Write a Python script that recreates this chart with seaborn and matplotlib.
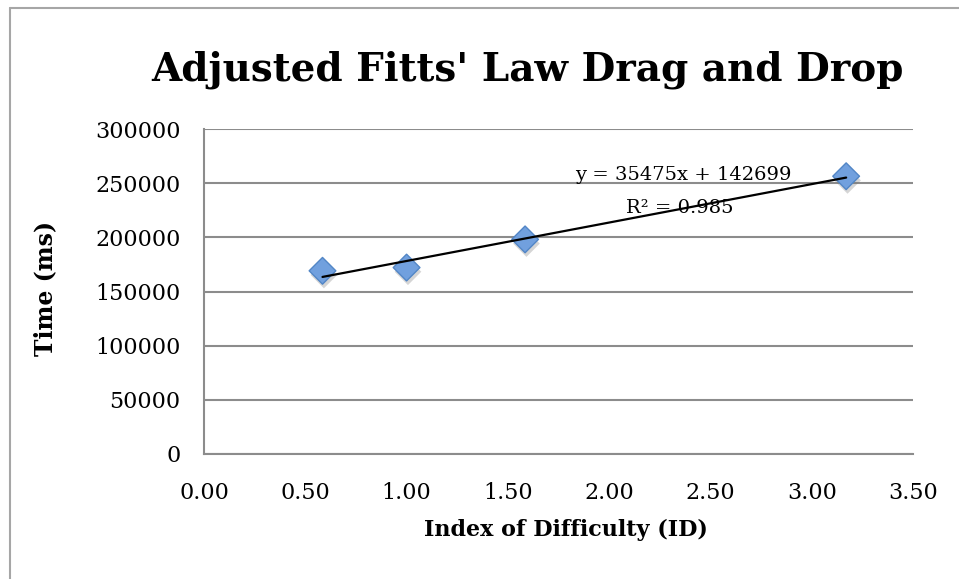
import numpy as np
import pandas as pd
import matplotlib
matplotlib.use("Agg")
import matplotlib.pyplot as plt
import seaborn as sns
from matplotlib import patheffects as pe
from matplotlib.lines import Line2D

# Measured drag-and-drop times per index of difficulty
index_of_difficulty = [0.585, 1.0, 1.585, 3.17]
time_ms = [169100, 172100, 198100, 256400]

# Linear trendline reported on the chart
trend_slope = 35475
trend_intercept = 142699
trend_r2 = 0.985

x_ticks = [0.0, 0.5, 1.0, 1.5, 2.0, 2.5, 3.0, 3.5]
y_ticks = [0, 50000, 100000, 150000, 200000, 250000, 300000]

title = "Adjusted Fitts' Law Drag and Drop"
x_label = "Index of Difficulty (ID)"
y_label = "Time (ms)"

sns.set_theme(style="white")
plt.rcParams['font.family'] = ['DejaVu Serif']
plt.rcParams['text.color'] = 'black'
plt.rcParams['xtick.color'] = 'black'
plt.rcParams['ytick.color'] = 'black'

W, H = 959, 579
fig = plt.figure(figsize=(W / 100, H / 100), dpi=100)
fig.patch.set_facecolor("white")
ax = fig.add_axes([204 / W, 1 - 454 / H, (913 - 204) / W, (454 - 129) / H])

df = pd.DataFrame({"ID": index_of_difficulty, "Time": time_ms})

sns.scatterplot(data=df, x="ID", y="Time", marker="D", s=185,
                color="#71A0DE", edgecolor="#5286C6", linewidth=1.0,
                ax=ax, zorder=3, legend=False)
ax.collections[-1].set_path_effects([
    pe.SimplePatchShadow(offset=(1.0, -3.0), shadow_rgbFace="#777777", alpha=0.3),
    pe.Normal()])

xs = np.array([min(index_of_difficulty), max(index_of_difficulty)])
sns.lineplot(x=xs, y=trend_slope * xs + trend_intercept, color="black",
             linewidth=1.6, ax=ax, zorder=4)

ax.text(2.364, 257500, f"y = {trend_slope}x + {trend_intercept}",
        ha="center", va="center", fontsize=14, color="black", zorder=5)
ax.text(2.35, 227000, f"R² = {trend_r2}", ha="center", va="center",
        fontsize=14, color="black", zorder=5)

ax.set_xlim(0, 3.5)
ax.set_ylim(0, 300000)
ax.set_xticks(x_ticks)
ax.set_xticklabels([f"{v:.2f}" for v in x_ticks])
ax.set_yticks(y_ticks)
ax.set_yticklabels([str(v) for v in y_ticks])
ax.tick_params(axis="both", length=0, labelsize=16, colors="black")
ax.tick_params(axis="x", pad=20)
ax.tick_params(axis="y", pad=17)

ax.yaxis.grid(True, color="#8C8C8C", linewidth=1.5)
ax.xaxis.grid(False)
for side in ["top", "right"]:
    ax.spines[side].set_visible(False)
for side in ["left", "bottom"]:
    ax.spines[side].set_color("#8C8C8C")
    ax.spines[side].set_linewidth(1.5)

ax.set_xlabel("")
ax.set_ylabel("")
fig.text(566 / W, 1 - 530 / H, x_label, ha="center", va="center",
         fontsize=16, fontweight="bold", color="black")
fig.text(45 / W, 1 - 288 / H, y_label, ha="center", va="center",
         fontsize=17, fontweight="bold", rotation=90, color="black")
fig.text(527 / W, 1 - 70 / H, title, ha="center", va="center",
         fontsize=28, fontweight="bold", color="black")

# chart-area frame
fig.add_artist(Line2D([10 / W, 10 / W], [0, 1 - 8 / H], color="#A6A6A6",
                      linewidth=1.5, transform=fig.transFigure))
fig.add_artist(Line2D([10 / W, 1], [1 - 8 / H, 1 - 8 / H], color="#A6A6A6",
                      linewidth=1.5, transform=fig.transFigure))

fig.savefig("out.png", dpi=100)
